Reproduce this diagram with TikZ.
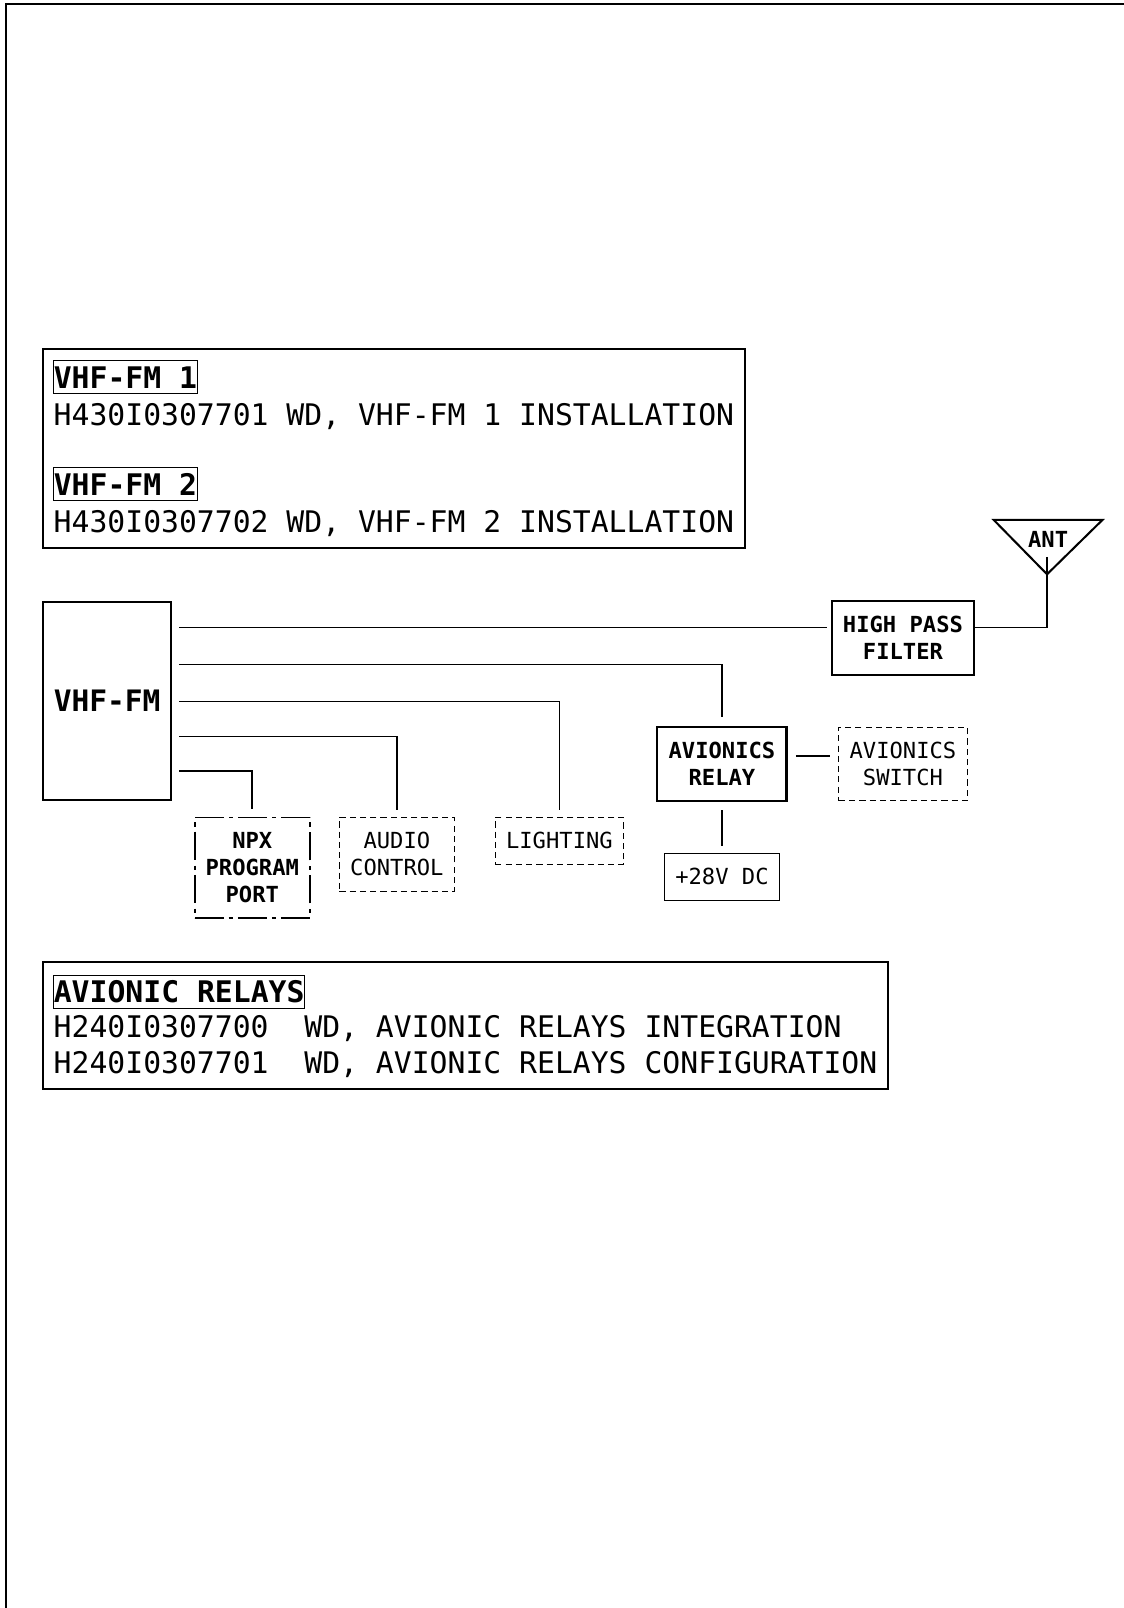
\documentclass[tikz,border=0pt]{standalone}
\usepackage{fontspec}
\setmainfont{DejaVu Sans Mono}
\frenchspacing
\usetikzlibrary{calc}

\begin{document}
\begin{tikzpicture}[
    x=0.5pt, y=-0.5pt,
    frame/.style={draw, line width=1pt, inner sep=0pt},
    hdr/.style={draw, line width=0.5pt, anchor=base west, inner xsep=0pt, inner ysep=2.5pt, text height=11pt, text depth=0pt, font=\fontsize{14.5}{18}\selectfont\bfseries},
    ref/.style={anchor=base west, inner sep=0pt, font=\fontsize{14.5}{18}\selectfont},
    unit/.style={draw, line width=1.1pt, align=center, inner sep=0pt, font=\fontsize{10.8}{13}\selectfont\bfseries},
    ext/.style={draw, dash pattern=on 3pt off 2pt, line width=0.5pt, align=center, inner sep=0pt, font=\fontsize{10.8}{13}\selectfont},
    wire/.style={line width=0.8pt}
]
\useasboundingbox (0,0) rectangle (1096,1568);
\draw[line width=1.2pt] (6,1568) -- (6,4) -- (1096,4);

\node[frame, minimum width=342pt, minimum height=97pt] (wdtop) at (384,437) {};
\node[hdr] (h1) at (52,379) {VHF-FM 1};
\node[ref] (r1) at (52,415) {H430I0307701 WD, VHF-FM 1 INSTALLATION};
\node[hdr] (h2) at (52,483) {VHF-FM 2};
\node[ref] (r2) at (52,519) {H430I0307702 WD, VHF-FM 2 INSTALLATION};

\node[frame, minimum width=412pt, minimum height=62pt] (wdbot) at (454,1000) {};
\node[hdr] (h3) at (52,978) {AVIONIC RELAYS};
\node[ref] (r3) at (52,1012) {H240I0307700\ \ WD, AVIONIC RELAYS INTEGRATION};
\node[ref] (r4) at (52,1047) {H240I0307701\ \ WD, AVIONIC RELAYS CONFIGURATION};

\node[unit, minimum width=62.5pt, minimum height=96.5pt, font=\fontsize{14.4}{18}\selectfont\bfseries] (vhf) at (104.5,683.5) {VHF-FM};
\node[unit, minimum width=69.5pt, minimum height=36pt] (hpf) at (880.5,622) {HIGH PASS\\FILTER};
\node[unit, minimum width=63pt, minimum height=36pt] (relay) at (704,745) {AVIONICS\\RELAY};
\node[ext, minimum width=62.5pt, minimum height=36pt] (switch) at (880.5,745) {AVIONICS\\SWITCH};
\node[ext, solid, line width=0.6pt, minimum width=56pt, minimum height=23pt] (plus28) at (704,855) {+28V DC};
\node[ext, dash pattern=on 14pt off 2.5pt on 2pt off 2.5pt, line width=0.8pt, font=\fontsize{10.8}{13}\selectfont\bfseries, minimum width=56pt, minimum height=49pt] (npx) at (246,846) {NPX\\PROGRAM\\PORT};
\node[ext, minimum width=56pt, minimum height=36pt] (audio) at (387,833) {AUDIO\\CONTROL};
\node[ext, minimum width=62.5pt, minimum height=23pt] (light) at (545.5,820) {LIGHTING};

\coordinate (antapex) at (1021,560);
\coordinate (antfeed) at (1021,543);
\draw[line width=1pt, line join=miter] (antapex) -- (969,507) -- (1075,507) -- cycle;
\node[font=\fontsize{10.8}{13}\selectfont\bfseries, inner sep=0pt] (ant) at (1022,526) {ANT};

\coordinate (p1) at (175,612);
\coordinate (p2) at (175,648);
\coordinate (p3) at (175,684);
\coordinate (p4) at (175,718);
\coordinate (p5) at (175,752);

\draw[wire, shorten >=1.5pt] (p1) -- (p1 -| hpf.west);
\draw[wire, shorten >=4.5pt] (p2) -| (relay.north);
\draw[wire, shorten >=3.5pt] (p3) -| (light.north);
\draw[wire, shorten >=3.5pt] (p4) -| (audio.north);
\draw[wire, shorten >=3.5pt] (p5) -| (npx.north);
\draw[wire, shorten <=4pt, shorten >=4pt] ([yshift=4pt]relay.east) -- ([yshift=4pt]switch.west);
\draw[wire, shorten <=4pt, shorten >=3pt] (relay.south) -- (plus28.north);
\draw[wire] (antfeed) |- (hpf.east |- p1);
\end{tikzpicture}
\end{document}
